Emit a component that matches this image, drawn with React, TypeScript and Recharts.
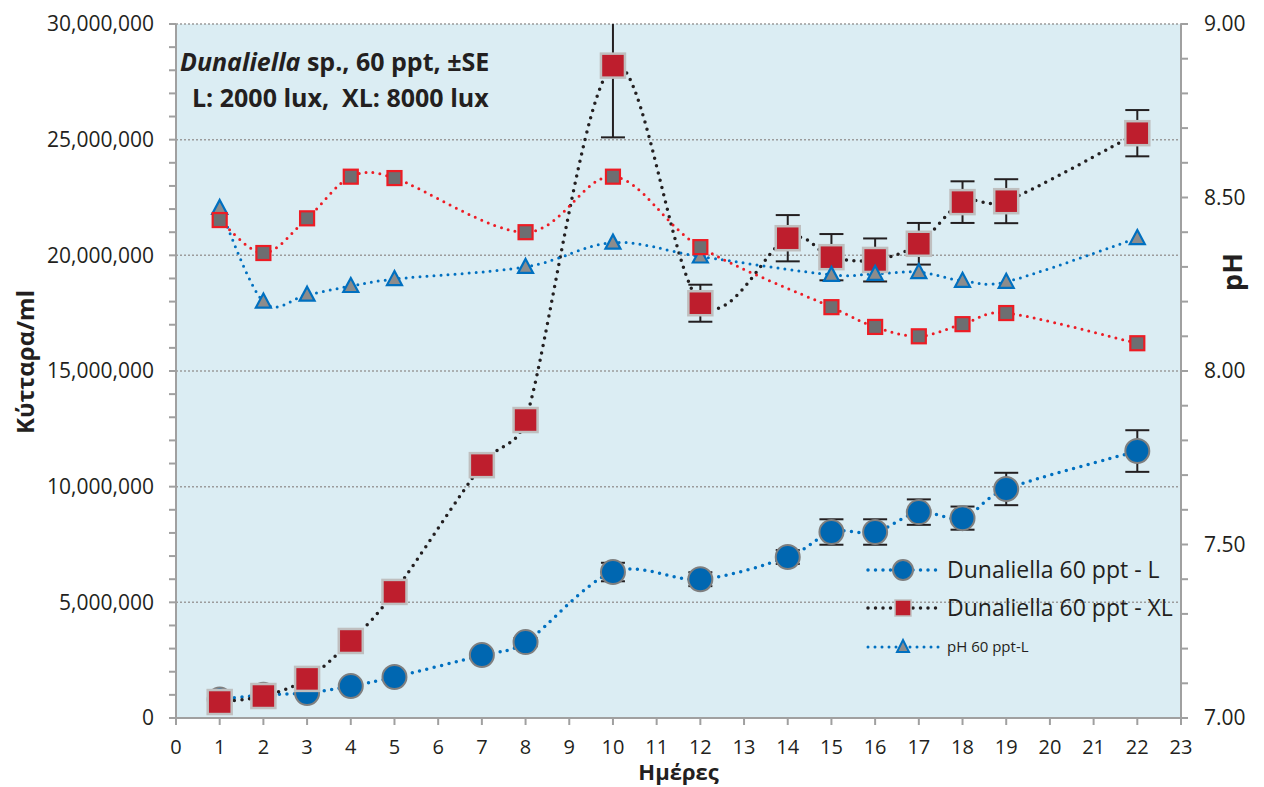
import React from 'react';
import {
  LineChart, Line, XAxis, YAxis, CartesianGrid, ErrorBar, Legend,
} from 'recharts';

// ---------- data ----------
const days = [1, 2, 3, 4, 5, 7, 8, 10, 12, 14, 15, 16, 17, 18, 19, 22];
const cellsL = [800000, 1000000, 1080000, 1380000, 1770000, 2720000, 3280000, 6310000, 6000000, 6960000, 8040000, 8040000, 8900000, 8640000, 9900000, 11540000];
const errL = [50000, 80000, 100000, 100000, 120000, 150000, 180000, 400000, 300000, 300000, 550000, 550000, 550000, 500000, 700000, 900000];
const cellsXL = [690000, 950000, 1690000, 3330000, 5450000, 10930000, 12880000, 28200000, 17930000, 20740000, 19920000, 19800000, 20500000, 22300000, 22340000, 25280000];
const errXL = [50000, 50000, 100000, 150000, 200000, 200000, 250000, 3100000, 800000, 1000000, 1000000, 930000, 900000, 900000, 950000, 1000000];
const phL = [8.47, 8.2, 8.22, 8.245, 8.265, null, 8.3, 8.37, 8.33, null, 8.277, 8.28, 8.285, 8.26, 8.257, 8.383];
const phXL = [8.435, 8.34, 8.44, 8.56, 8.556, null, 8.4, 8.56, 8.357, null, 8.184, 8.127, 8.1, 8.135, 8.167, 8.08];

const xTicks = [0, 1, 2, 3, 4, 5, 6, 7, 8, 9, 10, 11, 12, 13, 14, 15, 16, 17, 18, 19, 20, 21, 22, 23];
const leftTicks = [0, 1e6, 2e6, 3e6, 4e6, 5e6, 6e6, 7e6, 8e6, 9e6, 10e6, 11e6, 12e6, 13e6, 14e6, 15e6, 16e6, 17e6, 18e6, 19e6, 20e6, 21e6, 22e6, 23e6, 24e6, 25e6, 26e6, 27e6, 28e6, 29e6, 30e6];
const leftMajor = [5e6, 10e6, 15e6, 20e6, 25e6, 30e6];
const rightTicks = [7.0, 7.1, 7.2, 7.3, 7.4, 7.5, 7.6, 7.7, 7.8, 7.9, 8.0, 8.1, 8.2, 8.3, 8.4, 8.5, 8.6, 8.7, 8.8, 8.9, 9.0];

const seriesNames = ['Dunaliella 60 ppt - L', 'Dunaliella 60 ppt - XL', 'pH 60 ppt-L'];

const data = days.map((d, i) => ({
  day: d,
  cellsL: cellsL[i],
  errL: errL[i],
  cellsXL: cellsXL[i],
  errXL: errXL[i],
  phL: phL[i],
  phXL: phXL[i],
}));

// ---------- layout / styles ----------
const W = 1264;
const H = 787;
const M_TOP = 24;
const LEFT_W = 176;
const RIGHT_W = 83;
const X_H = 69;
const PLOT = { x: LEFT_W, y: M_TOP, w: W - LEFT_W - RIGHT_W, h: H - M_TOP - X_H };

const FONT = "'Open Sans', 'Noto Sans', sans-serif";
const TXT = '#231F20';
const AXIS = '#A0A0A0';
const BLUE = '#0070C0';
const RED_LINE = '#ED1C24';
const DOT_DASH = '0 7.5';

// Excel-like smoothed line (Catmull-Rom arms, capped to half the segment length)
const smoothCurve: any = (context: any) => {
  let pts: number[][] = [];
  const dist = (a: number[], b: number[]) => Math.hypot(b[0] - a[0], b[1] - a[1]);
  return {
    areaStart() {},
    areaEnd() {},
    lineStart() { pts = []; },
    point(x: number, y: number) { pts.push([+x, +y]); },
    lineEnd() {
      const n = pts.length;
      if (!n) return;
      context.moveTo(pts[0][0], pts[0][1]);
      for (let i = 0; i < n - 1; i++) {
        const p0 = pts[Math.max(i - 1, 0)];
        const p1 = pts[i];
        const p2 = pts[i + 1];
        const p3 = pts[Math.min(i + 2, n - 1)];
        const d12 = dist(p1, p2);
        let a1x = (p2[0] - p0[0]) / 6;
        let a1y = (p2[1] - p0[1]) / 6;
        let a2x = (p3[0] - p1[0]) / 6;
        let a2y = (p3[1] - p1[1]) / 6;
        const l1 = Math.hypot(a1x, a1y);
        const l2 = Math.hypot(a2x, a2y);
        if (l1 > d12 / 2 && l1 > 0) { const s = d12 / 2 / l1; a1x *= s; a1y *= s; }
        if (l2 > d12 / 2 && l2 > 0) { const s = d12 / 2 / l2; a2x *= s; a2y *= s; }
        context.bezierCurveTo(p1[0] + a1x, p1[1] + a1y, p2[0] - a2x, p2[1] - a2y, p2[0], p2[1]);
      }
    },
  };
};

const circleDot = (p: any) => {
  const { cx, cy, index } = p;
  if (cx == null || cy == null) return <g key={`cL${index}`} />;
  return <circle key={`cL${index}`} cx={cx} cy={cy} r={12} fill="#0067B1" stroke="#7F7F7F" strokeWidth={2} />;
};
const bigSquareDot = (p: any) => {
  const { cx, cy, index } = p;
  if (cx == null || cy == null) return <g key={`sX${index}`} />;
  return <rect key={`sX${index}`} x={cx - 12} y={cy - 12} width={24} height={24} fill="#BE1E2D" stroke="#BFBFBF" strokeWidth={2.5} />;
};
const triDot = (p: any) => {
  const { cx, cy, index } = p;
  if (cx == null || cy == null) return <g key={`tL${index}`} />;
  return <path key={`tL${index}`} d={`M${cx},${cy - 8} L${cx + 7.5},${cy + 6} L${cx - 7.5},${cy + 6} Z`} fill="#8C8C8C" stroke={BLUE} strokeWidth={2.2} />;
};
const smallSquareDot = (p: any) => {
  const { cx, cy, index } = p;
  if (cx == null || cy == null) return <g key={`sP${index}`} />;
  return <rect key={`sP${index}`} x={cx - 7} y={cy - 7} width={14} height={14} fill="#6D6E71" stroke={RED_LINE} strokeWidth={2.2} />;
};

const LegendBox = () => (
  <svg width={340} height={110} style={{ overflow: 'visible', display: 'block' }}>
    <g>
      <line x1={8} y1={18} x2={80} y2={18} stroke={BLUE} strokeWidth={3.5} strokeDasharray={DOT_DASH} strokeLinecap="round" />
      <circle cx={43} cy={18} r={10} fill="#0067B1" stroke="#7F7F7F" strokeWidth={2} />
      <text x={87} y={26} fontSize={23} fill={TXT} fontFamily={FONT}>{seriesNames[0]}</text>
    </g>
    <g>
      <line x1={8} y1={56} x2={80} y2={56} stroke="#231F20" strokeWidth={3.5} strokeDasharray={DOT_DASH} strokeLinecap="round" />
      <rect x={35} y={48} width={16} height={16} fill="#BE1E2D" stroke="#BFBFBF" strokeWidth={1.5} />
      <text x={87} y={64} fontSize={23} fill={TXT} fontFamily={FONT}>{seriesNames[1]}</text>
    </g>
    <g>
      <line x1={8} y1={95} x2={80} y2={95} stroke={BLUE} strokeWidth={3} strokeDasharray="0 7" strokeLinecap="round" />
      <path d="M43,88 L49,100 L37,100 Z" fill="#8C8C8C" stroke={BLUE} strokeWidth={2} />
      <text x={87} y={100} fontSize={15} fill={TXT} fontFamily={FONT}>{seriesNames[2]}</text>
    </g>
  </svg>
);

const fmtLeft = (v: number) => (v % 5e6 === 0 ? v.toLocaleString('en-US') : '');
const fmtRight = (v: number) => (Math.abs(v * 2 - Math.round(v * 2)) < 1e-6 ? v.toFixed(2) : '');

export default function App() {
  return (
    <div style={{ position: 'absolute', left: 0, top: 0, width: W, height: H, background: '#fff', fontFamily: FONT }}>
      <style>{`.recharts-errorBars { clip-path: url(#plotClipArea); }`}</style>
      <svg width={0} height={0} style={{ position: 'absolute' }}>
        <defs>
          <clipPath id="plotClipArea">
            <rect x={PLOT.x} y={PLOT.y} width={PLOT.w} height={PLOT.h} />
          </clipPath>
        </defs>
      </svg>
      <LineChart
        width={W}
        height={H}
        data={data}
        margin={{ top: M_TOP, right: 0, bottom: 0, left: 0 }}
        style={{ fontFamily: FONT }}
      >
        <CartesianGrid
          yAxisId="left"
          fill="#DBEDF3"
          fillOpacity={1}
          vertical={false}
          horizontalValues={leftMajor}
          stroke="#9C9C9C"
          strokeWidth={1.5}
          strokeDasharray="2 2"
        />
        <XAxis
          dataKey="day"
          type="number"
          domain={[0, 23]}
          ticks={xTicks}
          interval={0}
          allowDataOverflow
          height={X_H}
          tickSize={7}
          tickMargin={15}
          axisLine={{ stroke: AXIS, strokeWidth: 2 }}
          tickLine={{ stroke: AXIS, strokeWidth: 2 }}
          tick={{ fill: TXT, fontSize: 20, fontFamily: FONT }}
          label={{
            content: (props: any) => {
              const vb = props.viewBox;
              return (
                <text x={vb.x + vb.width / 2} y={vb.y + 62} textAnchor="middle" fontSize={22} fontWeight="bold" fill={TXT} fontFamily={FONT}>Ημέρες</text>
              );
            },
          }}
        />
        <YAxis
          yAxisId="left"
          orientation="left"
          type="number"
          domain={[0, 30000000]}
          ticks={leftTicks}
          interval={0}
          allowDataOverflow
          width={LEFT_W}
          tickSize={7}
          tickMargin={15}
          tickFormatter={fmtLeft}
          axisLine={{ stroke: AXIS, strokeWidth: 2 }}
          tickLine={{ stroke: AXIS, strokeWidth: 2 }}
          tick={{ fill: TXT, fontSize: 21, fontFamily: FONT }}
          label={{
            content: (props: any) => {
              const vb = props.viewBox;
              const x = vb.x + 34;
              const y = vb.y + vb.height / 2 - 9;
              return (
                <text x={x} y={y} transform={`rotate(-90, ${x}, ${y})`} textAnchor="middle" fontSize={24} fontWeight="bold" fill={TXT} fontFamily={FONT}>Κύτταρα/ml</text>
              );
            },
          }}
        />
        <YAxis
          yAxisId="right"
          orientation="right"
          type="number"
          domain={[7, 9]}
          ticks={rightTicks}
          interval={0}
          allowDataOverflow
          width={RIGHT_W}
          tickSize={7}
          tickMargin={16}
          tickFormatter={fmtRight}
          axisLine={{ stroke: AXIS, strokeWidth: 2 }}
          tickLine={{ stroke: AXIS, strokeWidth: 2 }}
          tick={{ fill: TXT, fontSize: 21, fontFamily: FONT, textAnchor: 'start' }}
          label={{
            content: (props: any) => {
              const vb = props.viewBox;
              const x = vb.x + 61;
              const y = vb.y + 248;
              return (
                <text x={x} y={y} transform={`rotate(-90, ${x}, ${y})`} textAnchor="middle" fontSize={27} fontWeight="bold" fill={TXT} fontFamily={FONT}>pH</text>
              );
            },
          }}
        />
        <Line
          yAxisId="left"
          dataKey="cellsL"
          name={seriesNames[0]}
          type={smoothCurve}
          stroke={BLUE}
          strokeWidth={3.5}
          strokeDasharray={DOT_DASH}
          strokeLinecap="round"
          dot={circleDot}
          activeDot={false}
          isAnimationActive={false}
        >
          <ErrorBar dataKey="errL" direction="y" width={12} strokeWidth={2} stroke={TXT} />
        </Line>
        <Line
          yAxisId="left"
          dataKey="cellsXL"
          name={seriesNames[1]}
          type={smoothCurve}
          stroke="#231F20"
          strokeWidth={3.5}
          strokeDasharray={DOT_DASH}
          strokeLinecap="round"
          dot={bigSquareDot}
          activeDot={false}
          isAnimationActive={false}
        >
          <ErrorBar dataKey="errXL" direction="y" width={12} strokeWidth={2} stroke={TXT} />
        </Line>
        <Line
          yAxisId="right"
          dataKey="phL"
          name={seriesNames[2]}
          type={smoothCurve}
          connectNulls
          stroke={BLUE}
          strokeWidth={3}
          strokeDasharray="0 7"
          strokeLinecap="round"
          dot={triDot}
          activeDot={false}
          isAnimationActive={false}
        />
        <Line
          yAxisId="right"
          dataKey="phXL"
          name="pH 60 ppt-XL"
          type={smoothCurve}
          connectNulls
          stroke={RED_LINE}
          strokeWidth={3}
          strokeDasharray="0 7"
          strokeLinecap="round"
          dot={smallSquareDot}
          activeDot={false}
          isAnimationActive={false}
        />
        <Legend
          layout="horizontal"
          verticalAlign="middle"
          align="center"
          wrapperStyle={{ left: 860, top: 552, width: 340, height: 110 }}
          content={() => <LegendBox />}
        />
      </LineChart>
      <svg width={W} height={H} style={{ position: 'absolute', left: 0, top: 0, pointerEvents: 'none' }}>
        <text x={180} y={71} fontSize={25} fontWeight="bold" fill={TXT} fontFamily={FONT}>
          <tspan fontStyle="italic">Dunaliella</tspan> sp., 60 ppt, ±SE
        </text>
        <text x={192} y={107} fontSize={25} fontWeight="bold" fill={TXT} fontFamily={FONT} style={{ whiteSpace: 'pre' }}>
          L: 2000 lux,  XL: 8000 lux
        </text>
      </svg>
    </div>
  );
}
